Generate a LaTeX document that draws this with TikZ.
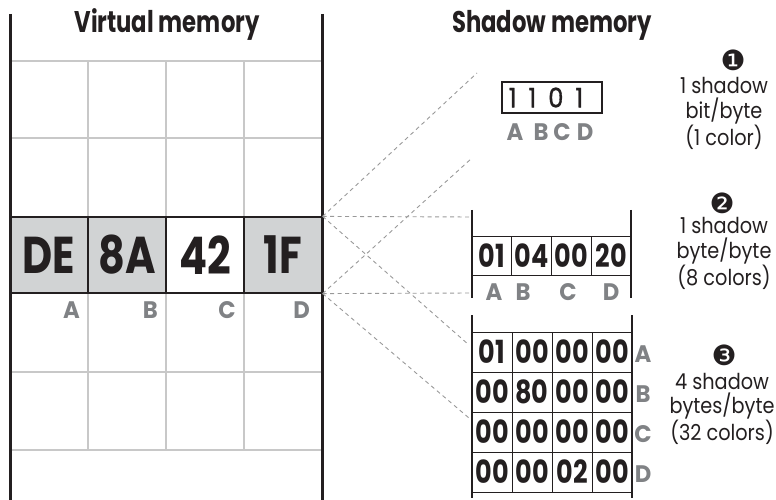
\documentclass[tikz,border=0pt]{standalone}
\usepackage{fontspec}
\setmainfont{Poppins}[FakeStretch=0.88]
\newfontfamily\bigfont{Poppins}[FakeStretch=0.8]
\newfontfamily\titlefont{Poppins}[FakeStretch=0.76]
\newfontfamily\lblfont{Poppins}[FakeStretch=0.95]
\newfontfamily\medfont{Poppins}[FakeStretch=0.9, FakeBold=1.2]
\newfontfamily\dingfont{DejaVu Sans}
\usetikzlibrary{calc}
\definecolor{ink}{HTML}{231F20}
\definecolor{cellgray}{HTML}{D1D3D4}
\definecolor{lblgray}{HTML}{808285}
\definecolor{gridgray}{HTML}{C8C8C8}
\definecolor{dashgray}{HTML}{999999}
\tikzset{
  wall/.style={draw=ink, line width=3bp},
  thinwall/.style={draw=ink, line width=1.2bp},
  gridline/.style={draw=gridgray, line width=1.2bp},
  conn/.style={draw=dashgray, line width=0.9bp, dash pattern=on 4bp off 3.5bp},
  vcell/.style={draw=ink, line width=1.2bp, minimum width=78bp, minimum height=76bp, inner sep=0pt, text=ink, font=\fontsize{52}{52}\bigfont\bfseries},
  scell/.style={draw=ink, line width=0.9bp, minimum width=40bp, minimum height=40bp, inner sep=0pt, text=ink, font=\fontsize{32}{32}\bigfont\bfseries},
  lbl/.style={text=lblgray, inner sep=0pt, font=\fontsize{24}{24}\lblfont\bfseries},
  title/.style={text=ink, inner sep=0pt, anchor=base, font=\fontsize{30}{30}\titlefont\bfseries},
  note/.style={text=ink, inner sep=0pt, align=center, font=\fontsize{22}{24.5}\selectfont},
  ding/.style={text=ink, inner sep=0pt, font=\fontsize{28}{28}\dingfont},
}
\begin{document}
\begin{tikzpicture}[x=1bp,y=-1bp]
\useasboundingbox (0,0) rectangle (776,500);
% virtual memory grid
\draw[gridline] (10,61) -- (322,61) (10,138) -- (322,138) (10,372) -- (322,372) (10,450) -- (322,450);
\draw[gridline] (88,61) -- (88,217) (166,61) -- (166,217) (244,61) -- (244,217);
\draw[gridline] (88,293) -- (88,450) (166,293) -- (166,450) (244,293) -- (244,450);
\node[vcell, fill=cellgray] (v1) at (49,255) {DE};
\node[vcell, fill=cellgray] (v2) at (127,255) {8A};
\node[vcell, fill=white] (v3) at (205,255) {42};
\node[vcell, fill=cellgray] (v4) at (283,255) {1F};
\draw[wall] (10,14) -- (10,500);
\draw[wall] (322,14) -- (322,500);
\node[title] (vtitle) at (167,33) {Virtual memory};
\node[lbl, anchor=east] (vA) at (80,310) {A};
\node[lbl, anchor=east] (vB) at (158,310) {B};
\node[lbl, anchor=east] (vC) at (236,310) {C};
\node[lbl, anchor=east] (vD) at (310,310) {D};
% shadow memory title
\node[title] (stitle) at (552,33) {Shadow memory};
% shadow 1
\node[draw=ink, line width=1.2bp, minimum width=100bp, minimum height=31bp, inner sep=0pt] (s1) at (552,97.5) {};
\node[text=ink, inner sep=0pt, font=\fontsize{27}{27}\medfont] (s1t) at (546,97.5) {1\kern12bp1\kern12bp0\kern12bp1};
\node[lbl] (s1A) at (515,132) {A};
\node[lbl] (s1B) at (541,132) {B};
\node[lbl] (s1C) at (562,132) {C};
\node[lbl] (s1D) at (585,132) {D};
% shadow 2
\draw[thinwall] (472,210) -- (472,298) (631,210) -- (631,298);
\node[scell, minimum width=39.75bp, minimum height=39bp] (s2a) at (491.9,255.5) {01};
\node[scell, minimum width=39.75bp, minimum height=39bp] (s2b) at (531.6,255.5) {04};
\node[scell, minimum width=39.75bp, minimum height=39bp] (s2c) at (571.4,255.5) {00};
\node[scell, minimum width=39.75bp, minimum height=39bp] (s2d) at (611.1,255.5) {20};
\node[lbl] (s2A) at (494,292) {A};
\node[lbl] (s2B) at (523,292) {B};
\node[lbl] (s2C) at (568,292) {C};
\node[lbl] (s2D) at (611,292) {D};
% shadow 3
\draw[thinwall] (472,315) -- (472,498) (632,315) -- (632,498);
\foreach \r/\y/\a/\b/\c/\d in {1/352/01/00/00/00, 2/392/00/80/00/00, 3/432/00/00/00/00, 4/472/00/00/02/00}{
  \node[scell] (s3r\r c1) at (492,\y) {\a};
  \node[scell] (s3r\r c2) at (532,\y) {\b};
  \node[scell] (s3r\r c3) at (572,\y) {\c};
  \node[scell] (s3r\r c4) at (612,\y) {\d};
}
\node[lbl] (s3A) at (643,354) {A};
\node[lbl] (s3B) at (643,394) {B};
\node[lbl] (s3C) at (643,434) {C};
\node[lbl] (s3D) at (643,474) {D};
% notes
\node[ding] (d1) at (733,60) {❶};
\node[note] (n1) at (724,113.5) {1 shadow\\bit/byte\\(1 color)};
\node[ding] (d2) at (722,203) {❷};
\node[note] (n2) at (724,253.5) {1 shadow\\byte/byte\\(8 colors)};
\node[ding] (d3) at (724,355) {❸};
\node[note] (n3) at (722,409) {4 shadow\\bytes/byte\\(32 colors)};
% connector ends
\coordinate (e1) at (477,73);
\coordinate (e2) at (472,158);
\coordinate (e3) at (472,217);
\coordinate (e4) at (472,293);
\coordinate (e5) at (469,345);
\coordinate (e6) at (469,418);
\draw[conn] (v4.north east) -- (e1);
\draw[conn] (v4.south east) -- (e2);
\draw[conn] (v4.north east) -- (e3);
\draw[conn] (v4.south east) -- (e4);
\draw[conn] (v4.north east) -- (e5);
\draw[conn] (v4.south east) -- (e6);
\end{tikzpicture}
\end{document}
